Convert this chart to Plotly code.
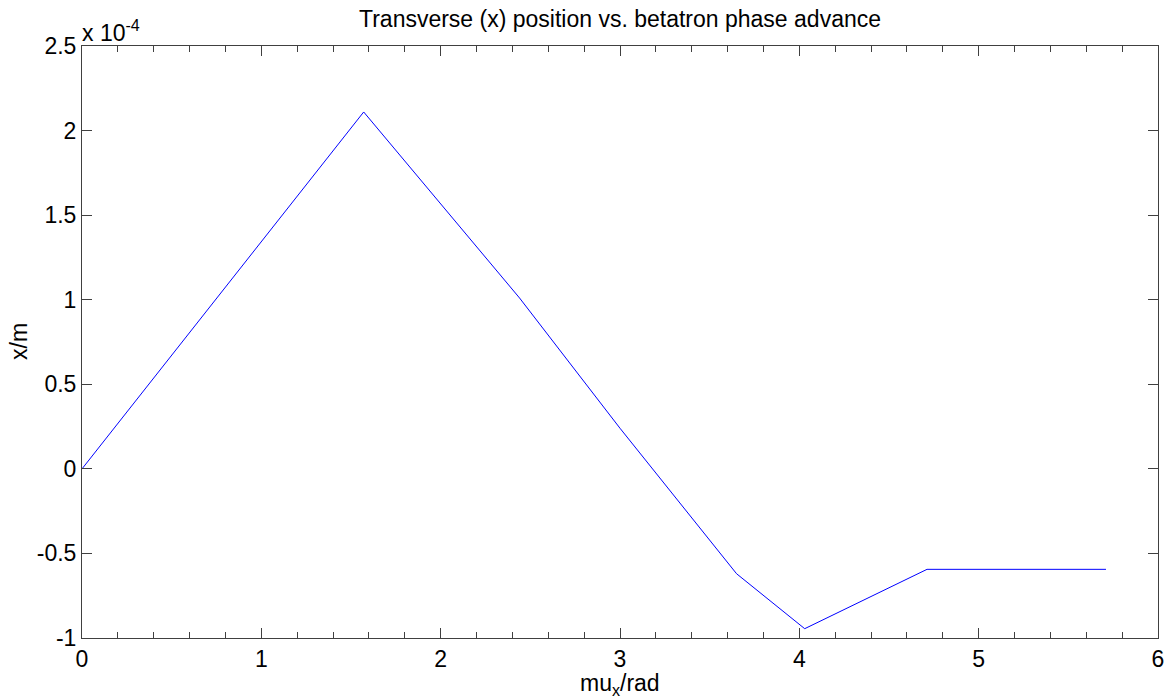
import plotly.graph_objects as go

# Phase advance (rad) and transverse position (x 1e-4 m)
mu_x = [0.0, 1.5708, 2.44, 3.0, 3.65, 4.03, 4.712, 5.71]
x_pos_e4 = [0.0, 2.11, 1.01, 0.24, -0.62, -0.945, -0.594, -0.594]
scale = 1e-4
x_pos = [v * scale for v in x_pos_e4]

y_tick_vals_e4 = [-1, -0.5, 0, 0.5, 1, 1.5, 2, 2.5]
y_tick_text = ["-1", "-0.5", "0", "0.5", "1", "1.5", "2", "2.5"]
x_tick_vals = [0, 1, 2, 3, 4, 5, 6]

font = "Liberation Sans, Arial, sans-serif"
axcol = "#404040"
W, H = 1164, 698
FS = 23

fig = go.Figure()
fig.add_trace(go.Scatter(x=mu_x, y=x_pos, mode="lines",
                         line=dict(color="#0000ff", width=1), showlegend=False))

fig.update_layout(
    width=W, height=H,
    margin=dict(l=82, r=6, t=46, b=60, autoexpand=False),
    paper_bgcolor="white", plot_bgcolor="white",
    font=dict(family=font, color="black", size=FS),
    title=dict(text="Transverse (x) position vs. betatron phase advance",
               x=0.5, xanchor="center", xref="paper", yref="container",
               y=1 - 19 / H, yanchor="middle",
               font=dict(size=FS, family=font, color="black")),
    xaxis=dict(range=[0, 6], tickvals=x_tick_vals, ticks="inside", ticklen=10,
               tickcolor=axcol, showline=True, linecolor=axcol, linewidth=1,
               mirror="ticks", showgrid=False, zeroline=False, automargin=False,
               ticklabeloverflow="allow",
               minor=dict(dtick=0.2, ticks="inside", ticklen=6, tickcolor=axcol),
               tickfont=dict(size=FS, family=font)),
    yaxis=dict(range=[-1 * scale, 2.5 * scale],
               tickvals=[v * scale for v in y_tick_vals_e4], ticktext=y_tick_text,
               ticks="inside", ticklen=10, tickcolor=axcol, showline=True,
               linecolor=axcol, linewidth=1, mirror="ticks", showgrid=False,
               zeroline=False, automargin=False, ticklabeloverflow="allow",
               tickfont=dict(size=FS, family=font)),
)

# axis titles
fig.add_annotation(text="mu<sub>x</sub>/rad", xref="paper", yref="paper",
                   x=0.5, y=-(684 - 638) / (638 - 46), xanchor="center", yanchor="middle",
                   showarrow=False, font=dict(size=FS, family=font, color="black"))
fig.add_annotation(text="x/m", xref="paper", yref="paper", textangle=-90,
                   x=-(82 - 19) / (1158 - 82), y=0.5, xanchor="center", yanchor="middle",
                   showarrow=False, font=dict(size=FS, family=font, color="black"))
# exponent label
fig.add_annotation(text="x 10<sup>-4</sup>", xref="paper", yref="paper",
                   x=0, y=1, xanchor="left", yanchor="bottom", showarrow=False,
                   font=dict(size=FS, family=font, color="black"), xshift=-2, yshift=-2)

fig.write_html("out.html", config={"displayModeBar": False},
               post_script="document.body.style.margin='0';")
